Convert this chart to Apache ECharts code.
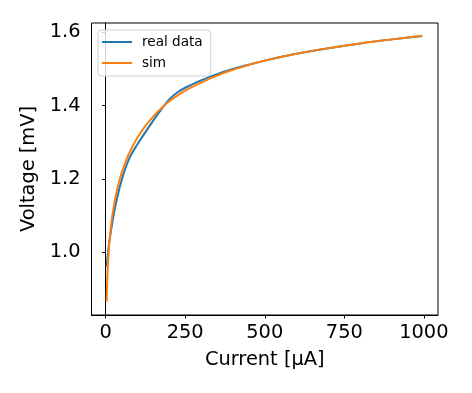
<!DOCTYPE html>
<html>
<head>
<meta charset="utf-8">
<script src="https://cdn.jsdelivr.net/npm/echarts@6/dist/echarts.min.js"></script>
<style>html,body{margin:0;padding:0;background:#fff}#c{width:472px;height:393px}</style>
</head>
<body>
<div id="c"></div>
<script>
const realX = [3, 10, 20, 30, 40, 50, 65, 80, 100, 125, 150, 175, 200, 225, 250, 300, 350, 400, 450, 500, 550, 600, 700, 800, 900, 995];
const realV = [0.961, 1.018, 1.076, 1.124, 1.163, 1.196, 1.236, 1.266, 1.295, 1.328, 1.360, 1.390, 1.417, 1.436, 1.449, 1.469, 1.486, 1.500, 1.512, 1.523, 1.533, 1.542, 1.557, 1.570, 1.581, 1.590];
const simX = [3, 5, 10, 15, 20, 30, 40, 50, 65, 80, 100, 125, 150, 175, 200, 250, 300, 350, 400, 450, 500, 600, 700, 800, 900, 995];
const simV = [0.865, 0.925, 1.010, 1.058, 1.094, 1.146, 1.185, 1.216, 1.252, 1.281, 1.313, 1.345, 1.371, 1.393, 1.412, 1.441, 1.463, 1.482, 1.498, 1.511, 1.523, 1.542, 1.557, 1.570, 1.581, 1.591];
const xTicks = [0, 250, 500, 750, 1000];
const yTicks = [1.0, 1.2, 1.4, 1.6];

const font = 'DejaVu Sans';
const chart = echarts.init(document.getElementById('c'), null, {renderer: 'canvas'});
chart.setOption({
  animation: false,
  grid: {left: 91.5, right: 34, top: 23, bottom: 78, show: true, borderColor: '#000', borderWidth: 1, containLabel: false},
  legend: {
    left: 98, top: 30, orient: 'vertical',
    padding: [5, 8, 6, 4],
    itemGap: 7, itemWidth: 30, itemHeight: 2, icon: 'rect',
    borderColor: '#d0d0d0', borderWidth: 1, borderRadius: 3,
    backgroundColor: 'rgba(255,255,255,0.8)',
    textStyle: {fontFamily: font, fontSize: 13.6, color: '#000', padding: [0, 0, 0, 5]},
    data: ['real data', 'sim']
  },
  xAxis: {
    type: 'value', min: -44.5, max: 1044.5,
    name: 'Current [µA]', nameLocation: 'middle', nameGap: 35,
    nameTextStyle: {fontFamily: font, fontSize: 19.4, color: '#000', verticalAlign: 'top'},
    axisLine: {show: true, lineStyle: {color: '#000', width: 1}},
    axisTick: {show: true, length: 3.5, lineStyle: {color: '#000'}, customValues: xTicks},
    axisLabel: {fontFamily: font, fontSize: 19.4, color: '#000', margin: 8, customValues: xTicks,
      formatter: v => String(v)},
    splitLine: {show: false}
  },
  yAxis: {
    type: 'value', min: 0.8287, max: 1.6257,
    name: 'Voltage [mV]', nameLocation: 'middle', nameGap: 52, nameRotate: 90,
    nameTextStyle: {fontFamily: font, fontSize: 19.4, color: '#000', verticalAlign: 'bottom'},
    axisLine: {show: true, lineStyle: {color: '#000', width: 1}},
    axisTick: {show: true, length: 3.5, lineStyle: {color: '#000'}, customValues: yTicks},
    axisLabel: {fontFamily: font, fontSize: 19.4, color: '#000', margin: 11, customValues: yTicks,
      formatter: v => v.toFixed(1)},
    splitLine: {show: false}
  },
  series: [
    {name: 'real data', type: 'line', data: realX.map((x, i) => [x, realV[i]]), showSymbol: false,
     smooth: 0.35, lineStyle: {color: '#1f77b4', width: 2}, itemStyle: {color: '#1f77b4'}},
    {name: 'sim', type: 'line', data: simX.map((x, i) => [x, simV[i]]), showSymbol: false,
     smooth: 0.35, lineStyle: {color: '#ff7f0e', width: 2}, itemStyle: {color: '#ff7f0e'}}
  ]
});
</script>
</body>
</html>
